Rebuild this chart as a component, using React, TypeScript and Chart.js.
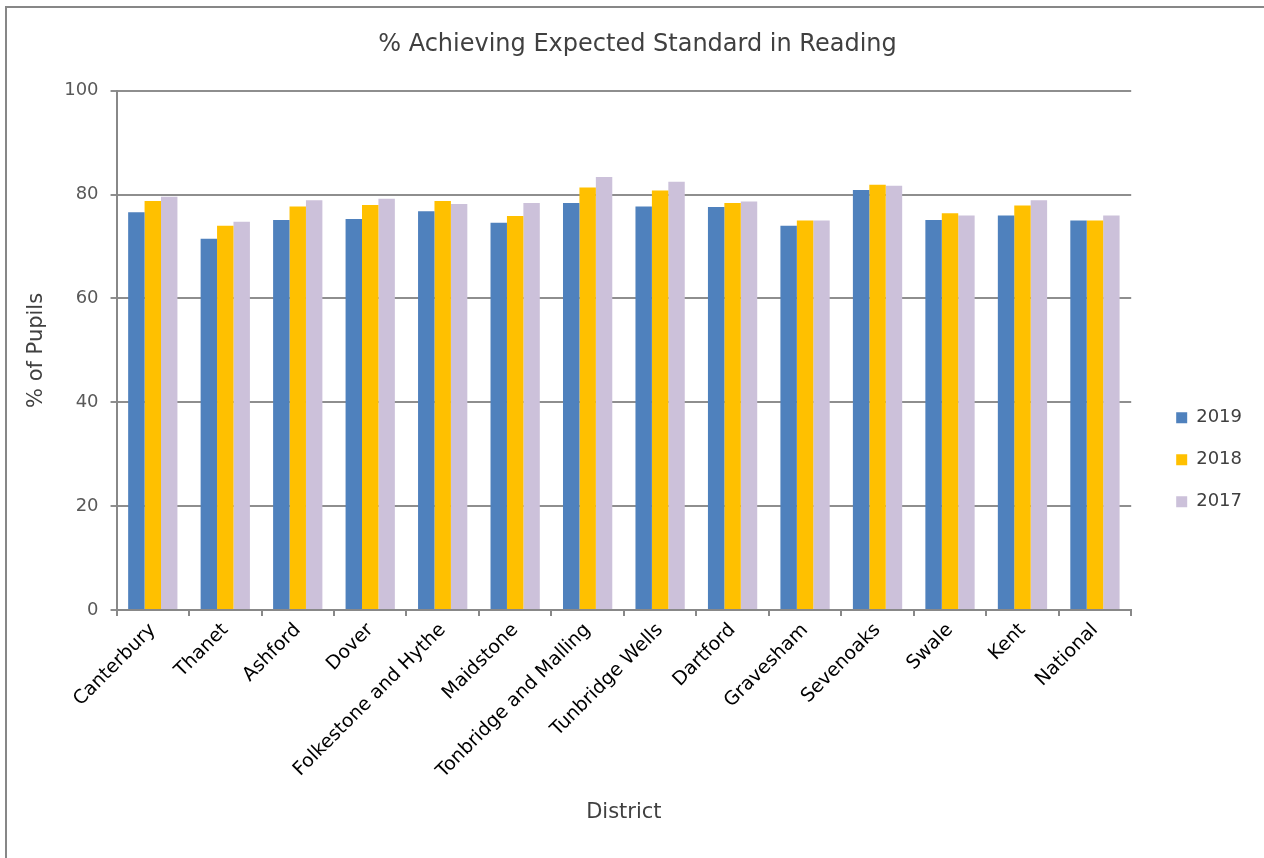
import React, { useEffect, useRef } from "react";
import { Chart, registerables } from "chart.js";

Chart.register(...registerables);

const districts = [
  "Canterbury", "Thanet", "Ashford", "Dover", "Folkestone and Hythe", "Maidstone",
  "Tonbridge and Malling", "Tunbridge Wells", "Dartford", "Gravesham", "Sevenoaks",
  "Swale", "Kent", "National",
];
const values2019 = [76.6, 71.5, 75.1, 75.3, 76.8, 74.6, 78.4, 77.7, 77.6, 74.0, 80.9, 75.1, 76.0, 75.0];
const values2018 = [78.8, 74.0, 77.7, 78.0, 78.8, 75.9, 81.4, 80.8, 78.4, 75.0, 81.9, 76.4, 77.9, 75.0];
const values2017 = [79.6, 74.8, 78.9, 79.2, 78.2, 78.4, 83.4, 82.5, 78.7, 75.0, 81.7, 76.0, 78.9, 76.0];
const seriesLabels = ["2019", "2018", "2017"];
const seriesColors = ["#4F81BD", "#FFC000", "#CCC1DA"];
const yTicks = [0, 20, 40, 60, 80, 100];

const FONT = "'DejaVu Sans', sans-serif";

const legendPlacer = {
  id: "legendPlacer",
  afterLayout(chart: any) {
    const lg = chart.legend;
    if (lg) {
      const area = chart.chartArea;
      const w = lg.width;
      const h = lg.height;
      lg.left = area.right + 21;
      lg.right = lg.left + w;
      lg.top = area.top + 294;
      lg.bottom = lg.top + h;
    }
    const tb = chart.titleBlock;
    if (tb) {
      tb.left += 17;
      tb.right += 17;
    }
  },
};

export default function App() {
  const ref = useRef<HTMLCanvasElement | null>(null);
  useEffect(() => {
    if (!ref.current) return;
    const chart = new Chart(ref.current, {
      type: "bar",
      data: {
        labels: districts,
        datasets: [values2019, values2018, values2017].map((d, i) => ({
          label: seriesLabels[i],
          data: d,
          backgroundColor: seriesColors[i],
          borderWidth: 0,
          categoryPercentage: 0.68,
          barPercentage: 1,
        })),
      },
      options: {
        responsive: false,
        animation: false,
        layout: { padding: { left: 10, right: 33, top: 0, bottom: 33 } },
        plugins: {
          title: {
            display: true,
            text: "% Achieving Expected Standard in Reading",
            color: "#404040",
            font: { family: FONT, size: 24, weight: "normal" },
            padding: { top: 30, bottom: 32 },
          },
          legend: {
            position: "right",
            align: "start",
            labels: {
              color: "#404040",
              font: { family: FONT, size: 18 },
              boxWidth: 11,
              boxHeight: 11,
              padding: 24,
            },
          },
          tooltip: { enabled: false },
        },
        scales: {
          x: {
            grid: {
              display: true,
              drawOnChartArea: false,
              drawTicks: true,
              tickLength: 6,
              color: "#888888",
              lineWidth: 2,
            },
            border: { color: "#888888", width: 2 },
            ticks: {
              color: "#000000",
              font: { family: FONT, size: 19 },
              maxRotation: 45,
              minRotation: 45,
              autoSkip: false,
              padding: 3,
            },
            title: {
              display: true,
              text: "District",
              color: "#404040",
              font: { family: FONT, size: 21 },
              padding: { top: 14, bottom: 0 },
            },
          },
          y: {
            min: 0,
            max: 100,
            afterBuildTicks: (axis: any) => {
              axis.ticks = yTicks.map((v) => ({ value: v }));
            },
            grid: {
              color: "#8e8e8e",
              lineWidth: 2,
              drawTicks: true,
              tickLength: 6,
            },
            border: { color: "#888888", width: 2 },
            ticks: {
              color: "#595959",
              font: { family: FONT, size: 18 },
              padding: 12,
            },
            title: {
              display: true,
              text: "% of Pupils",
              color: "#404040",
              font: { family: FONT, size: 21 },
              padding: { top: 14, bottom: 3 },
            },
          },
        },
      },
      plugins: [legendPlacer],
    });
    return () => chart.destroy();
  }, []);
  return (
    <div style={{ position: "fixed", left: 0, top: 0, width: 1264, height: 858, overflow: "hidden", background: "#fff" }}>
      <div
        style={{
          position: "absolute",
          left: 5,
          top: 6,
          width: 1400,
          height: 1000,
          border: "2px solid #878787",
          boxSizing: "border-box",
        }}
      />
      <canvas ref={ref} width={1264} height={858} style={{ position: "absolute", left: 0, top: 0 }} />
    </div>
  );
}
